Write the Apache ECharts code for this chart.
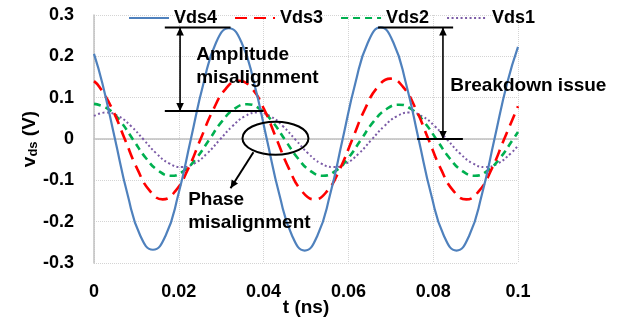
<!DOCTYPE html>
<html>
<head>
<meta charset="utf-8">
<script src="https://cdn.jsdelivr.net/npm/echarts@6/dist/echarts.min.js"></script>
<style>
html,body{margin:0;padding:0;background:#fff;}
#c{width:626px;height:322px;}
</style>
</head>
<body>
<div id="c"></div>
<script>
// Samples (time in ns, voltage in V)
const vds4T = [0,0.00197,0.00495,0.00793,0.01092,0.01390,0.01688,0.01987,0.02285,0.02583,0.02882,0.03180,0.03478,0.03777,0.04075,0.04373,0.04672,0.04970,0.05268,0.05567,0.05865,0.06163,0.06462,0.06760,0.07058,0.07357,0.07655,0.07953,0.08252,0.08550,0.08848,0.09147,0.09445,0.09743,0.1];
const vds4V = [0.206,0.135,0,-0.135,-0.234,-0.268,-0.234,-0.135,0,0.135,0.234,0.268,0.234,0.135,0,-0.135,-0.234,-0.270,-0.234,-0.135,0,0.135,0.234,0.270,0.234,0.135,0,-0.135,-0.234,-0.270,-0.234,-0.135,0,0.135,0.223];
const vds3T = [0,0.00128,0.00427,0.00725,0.01023,0.01322,0.01620,0.01918,0.02217,0.02515,0.02813,0.03112,0.03410,0.03708,0.04007,0.04305,0.04603,0.04902,0.05200,0.05498,0.05797,0.06095,0.06393,0.06692,0.06990,0.07288,0.07587,0.07885,0.08183,0.08482,0.08780,0.09078,0.09377,0.09675,0.1];
const vds3V = [0.140,0.126,0.073,0,-0.073,-0.126,-0.146,-0.126,-0.073,0,0.071,0.122,0.141,0.124,0.073,0,-0.073,-0.126,-0.146,-0.126,-0.073,0,0.073,0.126,0.146,0.126,0.073,0,-0.073,-0.126,-0.146,-0.126,-0.073,0,0.079];
const vds2T = [0,0.00328,0.00627,0.00925,0.01223,0.01522,0.01820,0.02118,0.02417,0.02715,0.03013,0.03312,0.03610,0.03908,0.04207,0.04505,0.04803,0.05102,0.05400,0.05698,0.05997,0.06295,0.06593,0.06892,0.07190,0.07488,0.07787,0.08085,0.08383,0.08682,0.08980,0.09278,0.09577,0.09875,0.1];
const vds2V = [0.085,0.073,0.042,-0.002,-0.046,-0.077,-0.089,-0.077,-0.046,-0.002,0.042,0.073,0.084,0.073,0.042,-0.002,-0.046,-0.077,-0.089,-0.077,-0.046,-0.002,0.042,0.072,0.083,0.072,0.041,-0.002,-0.046,-0.077,-0.089,-0.077,-0.046,-0.002,0.017];
const vds1T = [0,0.00280,0.00578,0.00877,0.01175,0.01473,0.01772,0.02070,0.02368,0.02667,0.02965,0.03263,0.03562,0.03860,0.04158,0.04457,0.04755,0.05053,0.05352,0.05650,0.05948,0.06247,0.06545,0.06843,0.07142,0.07440,0.07738,0.08037,0.08335,0.08633,0.08932,0.09230,0.09528,0.09827,0.1];
const vds1V = [0.056,0.064,0.055,0.031,-0.002,-0.035,-0.059,-0.068,-0.059,-0.035,-0.002,0.031,0.055,0.064,0.055,0.031,-0.002,-0.035,-0.059,-0.068,-0.059,-0.035,-0.002,0.031,0.055,0.064,0.055,0.031,-0.002,-0.035,-0.059,-0.068,-0.059,-0.035,-0.016];
const seriesNames = ['Vds4','Vds3','Vds2','Vds1'];
const xTickLabels = ['0','0.02','0.04','0.06','0.08','0.1'];
const yTickLabels = ['-0.3','-0.2','-0.1','0','0.1','0.2','0.3'];

const FONT = 'Arial, "Liberation Sans", sans-serif';
const pairs = (ts,vs) => ts.map((t,i)=>[t,vs[i]]);

const chart = echarts.init(document.getElementById('c'), null, {renderer:'canvas'});
chart.setOption({
  animation:false,
  backgroundColor:'#fff',
  grid:{left:94,right:108,top:15,bottom:59,containLabel:false,outerBoundsMode:'none'},
  legend:{
    top:4,left:123,itemWidth:40,itemHeight:14,itemGap:17,
    itemStyle:{opacity:0},
    textStyle:{fontFamily:FONT,fontWeight:'bold',fontSize:18,color:'#000'},
    data:seriesNames
  },
  xAxis:{
    type:'value',min:0,max:0.1,interval:0.02,
    name:'t (ns)',nameLocation:'middle',nameGap:35,nameMoveOverlap:false,
    nameTextStyle:{fontFamily:FONT,fontWeight:'bold',fontSize:19,color:'#000'},
    axisLine:{show:true,lineStyle:{color:'#c0c0c0',width:1.5}},
    axisTick:{show:false},
    axisLabel:{margin:20,fontFamily:FONT,fontWeight:'bold',fontSize:18,color:'#000',
      formatter:v=>xTickLabels[Math.round(v/0.02)]},
    splitLine:{show:true,lineStyle:{color:'#d4d4d4',type:'dotted',width:1}}
  },
  yAxis:{
    type:'value',min:-0.3,max:0.3,interval:0.1,
    name:'{v|v}{s|ds}{n| (V)}',nameLocation:'middle',nameRotate:90,nameGap:54,nameMoveOverlap:false,
    nameTextStyle:{
      rich:{
        v:{fontFamily:FONT,fontWeight:'bold',fontSize:19,color:'#000'},
        s:{fontFamily:FONT,fontWeight:'bold',fontSize:13,color:'#000',padding:[8,0,0,0]},
        n:{fontFamily:FONT,fontWeight:'bold',fontSize:19,color:'#000'}
      }
    },
    axisLine:{show:true,lineStyle:{color:'#c0c0c0',width:1.5}},
    axisTick:{show:false},
    axisLabel:{margin:20,fontFamily:FONT,fontWeight:'bold',fontSize:18,color:'#000',
      formatter:v=>yTickLabels[Math.round(v*10)+3]},
    splitLine:{show:true,lineStyle:{color:'#d4d4d4',type:'dotted',width:1}}
  },
  series:[
    {name:'Vds4',type:'line',data:pairs(vds4T,vds4V),smooth:0.5,symbol:'none',
     lineStyle:{color:'#4F81BD',width:2.2},itemStyle:{color:'#4F81BD'},z:4},
    {name:'Vds3',type:'line',data:pairs(vds3T,vds3V),smooth:0.5,symbol:'none',
     lineStyle:{color:'#FF0000',width:2.6,type:[12,7]},itemStyle:{color:'#FF0000'},z:3},
    {name:'Vds2',type:'line',data:pairs(vds2T,vds2V),smooth:0.5,symbol:'none',
     lineStyle:{color:'#00B050',width:2.6,type:[7,5]},itemStyle:{color:'#00B050'},z:2},
    {name:'Vds1',type:'line',data:pairs(vds1T,vds1V),smooth:0.5,symbol:'none',
     lineStyle:{color:'#7B5BA6',width:2,type:[2,2.5]},itemStyle:{color:'#7B5BA6'},z:1}
  ]
});

// annotations anchored in data coordinates
const P = (t,v)=>chart.convertToPixel({gridIndex:0},[t,v]);
const G = [];
const BLK = '#000';
function seg(a,b,w){G.push({type:'line',z:100,shape:{x1:a[0],y1:a[1],x2:b[0],y2:b[1]},style:{stroke:BLK,lineWidth:w||2}});}
function head(tip,from){
  const dx=tip[0]-from[0], dy=tip[1]-from[1], L=Math.hypot(dx,dy), ux=dx/L, uy=dy/L;
  const len=8, hw=3.8;
  const bx=tip[0]-ux*len, by=tip[1]-uy*len;
  G.push({type:'polygon',z:101,shape:{points:[[tip[0],tip[1]],[bx-uy*hw,by+ux*hw],[bx+uy*hw,by-ux*hw]]},style:{fill:BLK}});
}
function darrow(a,b){seg(a,b,1.6);head(a,b);head(b,a);}
function txt(s,p){G.push({type:'text',z:102,style:{text:s,x:p[0],y:p[1],font:'bold 19px '+FONT,fill:BLK,verticalAlign:'middle',textVerticalAlign:'middle'}});}

// Amplitude misalignment
seg(P(0.0167,0.27),P(0.0322,0.27));
seg(P(0.0167,0.068),P(0.0400,0.068));
darrow(P(0.0203,0.27),P(0.0203,0.068));
txt('Amplitude',P(0.0241,0.203));
txt('misalignment',P(0.0241,0.148));
// Breakdown issue
seg(P(0.0670,0.27),P(0.0847,0.27));
seg(P(0.0762,0.0),P(0.0870,0.0));
darrow(P(0.0823,0.27),P(0.0823,0.0));
txt('Breakdown issue',P(0.0840,0.13));
// Phase misalignment
const ec=P(0.0428,0.002);
G.push({type:'ellipse',z:100,shape:{cx:ec[0],cy:ec[1],rx:33,ry:16.5},style:{fill:'none',stroke:BLK,lineWidth:2}});
const pa=P(0.0376,-0.032), pb=P(0.0322,-0.119);
seg(pa,pb,2); head(pb,pa);
txt('Phase',P(0.0222,-0.148));
txt('misalignment',P(0.0222,-0.203));

chart.setOption({graphic:G});
</script>
</body>
</html>
